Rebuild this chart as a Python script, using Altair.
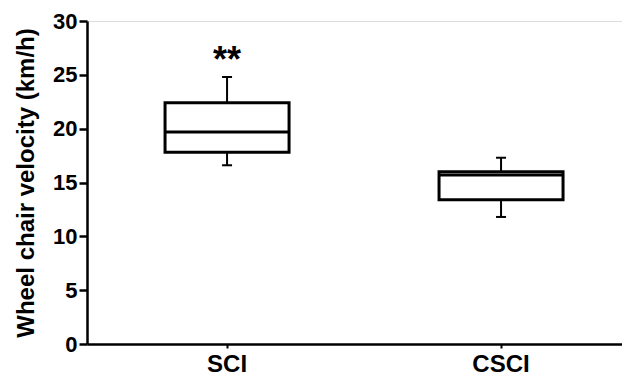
import altair as alt
import pandas as pd

# ---- data ----
groups = ["SCI", "CSCI"]
whisker_low = [16.6, 11.8]
q1 = [17.8, 13.4]
median = [19.7, 15.7]
q3 = [22.4, 16.0]
whisker_high = [24.8, 17.3]

annot_group = ["SCI"]
annot_text = ["**"]
annot_y = [25.3]

y_ticks = [0, 5, 10, 15, 20, 25, 30]

df = pd.DataFrame({
    "group": groups,
    "low": whisker_low,
    "q1": q1,
    "median": median,
    "q3": q3,
    "high": whisker_high,
})
ann = pd.DataFrame({"group": annot_group, "text": annot_text, "y": annot_y})

FONT = "Liberation Sans"

xscale = alt.Scale(domain=groups, paddingInner=0.5, paddingOuter=0.2263, align=0.577)
yscale = alt.Scale(domain=[0, 30], nice=False, zero=True)

x_enc = alt.X(
    "group:N",
    scale=xscale,
    sort=groups,
    axis=alt.Axis(
        title=None, labelAngle=0, labelFont=FONT, labelFontSize=24,
        labelFontWeight="bold", labelColor="black", labelPadding=4,
        domainColor="black", domainWidth=2.5, tickColor="black",
        tickWidth=2, tickSize=4, grid=False,
    ),
)
y_axis = alt.Axis(
    title="Wheel chair velocity (km/h)", values=y_ticks, format="d",
    labelFont=FONT, labelFontSize=22, labelFontWeight="bold", labelColor="black",
    labelPadding=2, tickSize=8, tickWidth=2.5, tickColor="black",
    domainColor="black", domainWidth=2.5, grid=False,
    titleFont=FONT, titleFontSize=24, titleFontWeight="bold", titleColor="black",
    titlePadding=14,
)

base = alt.Chart(df)

whisk_up = base.mark_rule(color="black", strokeWidth=2).encode(
    x=x_enc, y=alt.Y("q3:Q", scale=yscale, axis=y_axis), y2="high:Q"
)
whisk_dn = base.mark_rule(color="black", strokeWidth=2).encode(
    x=x_enc, y=alt.Y("low:Q", scale=yscale), y2="q1:Q"
)
cap_hi = base.mark_tick(color="black", size=10, thickness=2, opacity=1).encode(
    x=x_enc, y=alt.Y("high:Q", scale=yscale)
)
cap_lo = base.mark_tick(color="black", size=10, thickness=2, opacity=1).encode(
    x=x_enc, y=alt.Y("low:Q", scale=yscale)
)
box = base.mark_bar(fill="white", stroke="black", strokeWidth=3, size=124).encode(
    x=x_enc, y=alt.Y("q1:Q", scale=yscale), y2="q3:Q"
)
med = base.mark_tick(color="black", size=124, thickness=3, opacity=1).encode(
    x=x_enc, y=alt.Y("median:Q", scale=yscale)
)
stars = alt.Chart(ann).mark_text(
    font=FONT, fontSize=36, fontWeight="bold", color="black", baseline="alphabetic"
).encode(
    x=x_enc, y=alt.Y("y:Q", scale=yscale), text="text:N"
)

chart = alt.layer(whisk_up, whisk_dn, cap_hi, cap_lo, box, med, stars).properties(
    width=535,
    height=323,
    autosize=alt.AutoSizeParams(type="none"),
    padding={"left": 79, "top": 13, "right": 0, "bottom": 34},
).configure_view(stroke=None).configure(background="white")

chart.save("out.html", embed_options={"renderer": "svg", "actions": False})
